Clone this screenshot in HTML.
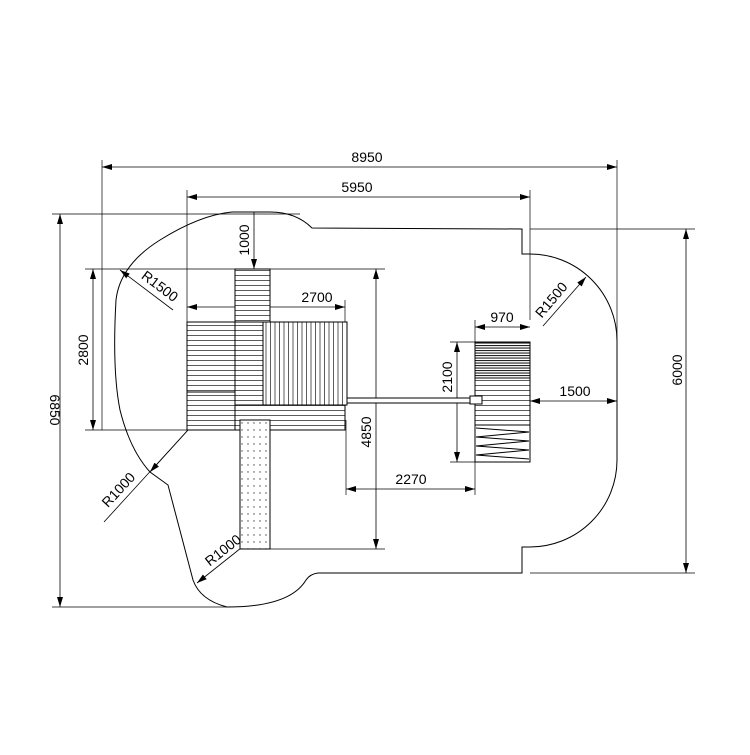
<!DOCTYPE html>
<html><head><style>html,body{margin:0;padding:0;background:#fff}</style></head><body>
<svg width="750" height="750" viewBox="0 0 750 750" xmlns="http://www.w3.org/2000/svg" font-family="Liberation Sans, sans-serif" font-size="14">
<defs>
<marker id="a" viewBox="0 0 10 6" refX="10" refY="3" markerWidth="10" markerHeight="6" orient="auto-start-reverse" markerUnits="userSpaceOnUse"><path d="M0,0L10,3L0,6z" fill="#000"/></marker>
<pattern id="hs" width="10" height="5" patternUnits="userSpaceOnUse"><rect width="10" height="5" fill="#fff"/><line x1="0" y1="0.5" x2="10" y2="0.5" stroke="#333" stroke-width="0.8"/></pattern>
<pattern id="vs" width="4.5" height="10" patternUnits="userSpaceOnUse"><rect width="4.5" height="10" fill="#fff"/><line x1="0.5" y1="0" x2="0.5" y2="10" stroke="#333" stroke-width="0.8"/></pattern>
<pattern id="dk" width="10" height="2.5" patternUnits="userSpaceOnUse"><rect width="10" height="2.5" fill="#fff"/><line x1="0" y1="0.5" x2="10" y2="0.5" stroke="#222" stroke-width="1.2"/></pattern>
<pattern id="dot" width="6" height="7" patternUnits="userSpaceOnUse"><rect width="6" height="7" fill="#fff"/><circle cx="2" cy="3" r="0.7" fill="#444"/></pattern>
</defs>
<g fill="none" stroke="#000" stroke-width="1">
<path d="M270,212 Q296,212 312,228 L522,229 L522,254 L530,254 A87,87 0 0 1 617,341 L617,460 A87,87 0 0 1 530,547 L522,547 L522,573 L318,573 Q310,574 306,580 Q290,607 227,607 Q200,600 193,580 L168,485 L150,472 Q130,450 120,410 Q112,370 116,300 Q120,265 160,240 Q200,215 232,212 Z"/>
<g stroke-width="0.7">
<line x1="102" y1="160" x2="102" y2="430"/><line x1="617" y1="160" x2="617" y2="341"/>
<line x1="187" y1="190" x2="187" y2="322"/><line x1="530" y1="190" x2="530" y2="320"/>
<line x1="52" y1="214" x2="300" y2="214"/><line x1="52" y1="607" x2="230" y2="607"/>
<line x1="85" y1="269" x2="385" y2="269"/><line x1="85" y1="430" x2="193" y2="430"/>
<line x1="345" y1="300" x2="345" y2="322"/>
<line x1="346" y1="420" x2="346" y2="495"/><line x1="475" y1="320" x2="475" y2="495"/>
<line x1="450" y1="342" x2="475" y2="342"/><line x1="450" y1="462" x2="475" y2="462"/>
<line x1="270" y1="549" x2="385" y2="549"/>
<line x1="530" y1="229" x2="695" y2="229"/><line x1="530" y1="573" x2="695" y2="573"/>
</g>
<g stroke-width="0.8" marker-start="url(#a)" marker-end="url(#a)">
<line x1="102" y1="167" x2="617" y2="167"/>
<line x1="187" y1="197" x2="530" y2="197"/>
<line x1="60" y1="214" x2="60" y2="607"/>
<line x1="93" y1="269" x2="93" y2="430"/>
<line x1="376" y1="269" x2="376" y2="549"/>
<line x1="187" y1="307" x2="345" y2="307"/>
<line x1="346" y1="489" x2="475" y2="489"/>
<line x1="475" y1="327" x2="530" y2="327"/>
<line x1="457" y1="342" x2="457" y2="462"/>
<line x1="530" y1="401" x2="617" y2="401"/>
<line x1="686" y1="229" x2="686" y2="573"/>
</g>
<line x1="254" y1="212" x2="254" y2="269" stroke-width="0.8" marker-end="url(#a)"/>
<g stroke-width="0.8">
<line x1="173" y1="310" x2="120" y2="270" marker-end="url(#a)"/>
<line x1="543" y1="326" x2="586" y2="277" marker-end="url(#a)"/>
<line x1="104" y1="522" x2="188" y2="430"/><line x1="188" y1="430" x2="150" y2="472" marker-end="url(#a)"/>
<line x1="241" y1="548" x2="197" y2="583" marker-end="url(#a)"/>
</g>
</g>
<g stroke="#000" stroke-width="1">
<rect x="235" y="269" width="35" height="53" fill="url(#hs)"/>
<rect x="187" y="322" width="48" height="70" fill="url(#hs)"/>
<rect x="187" y="392" width="48" height="38" fill="url(#hs)"/>
<rect x="235" y="322" width="28" height="98" fill="url(#hs)"/>
<rect x="263" y="322" width="84" height="83" fill="url(#vs)"/>
<rect x="235" y="405" width="110" height="25" fill="url(#hs)"/>
<rect x="240" y="420" width="30" height="129" fill="url(#dot)"/>
<rect x="347" y="398" width="133" height="5" fill="#fff"/>
<rect x="475" y="342" width="55" height="36" fill="url(#dk)"/>
<rect x="475" y="378" width="55" height="47" fill="url(#hs)"/>
<rect x="475" y="425" width="55" height="37" fill="#fff"/>
<path d="M476,428 L529,432 L476,437 L529,441 L476,446 L529,450 L476,455 L529,459" fill="none"/>
<rect x="470" y="396" width="12" height="8" fill="#fff"/>
</g>
<g fill="#000" text-anchor="middle">
<text x="367" y="162">8950</text>
<text x="357" y="192">5950</text>
<text x="317" y="302">2700</text>
<text x="411" y="484">2270</text>
<text x="502" y="322">970</text>
<text x="575" y="396">1500</text>
<text transform="translate(50,410) rotate(90)">6850</text>
<text transform="translate(88,350) rotate(-90)">2800</text>
<text transform="translate(249,240) rotate(-90)">1000</text>
<text transform="translate(371,432) rotate(-90)">4850</text>
<text transform="translate(452,377) rotate(-90)">2100</text>
<text transform="translate(682,370) rotate(-90)">6000</text>
<text transform="translate(157,290) rotate(37)">R1500</text>
<text transform="translate(555,303) rotate(-50)">R1500</text>
<text transform="translate(122,493) rotate(-47)">R1000</text>
<text transform="translate(226,554) rotate(-38)">R1000</text>
</g>
</svg>
</body></html>
